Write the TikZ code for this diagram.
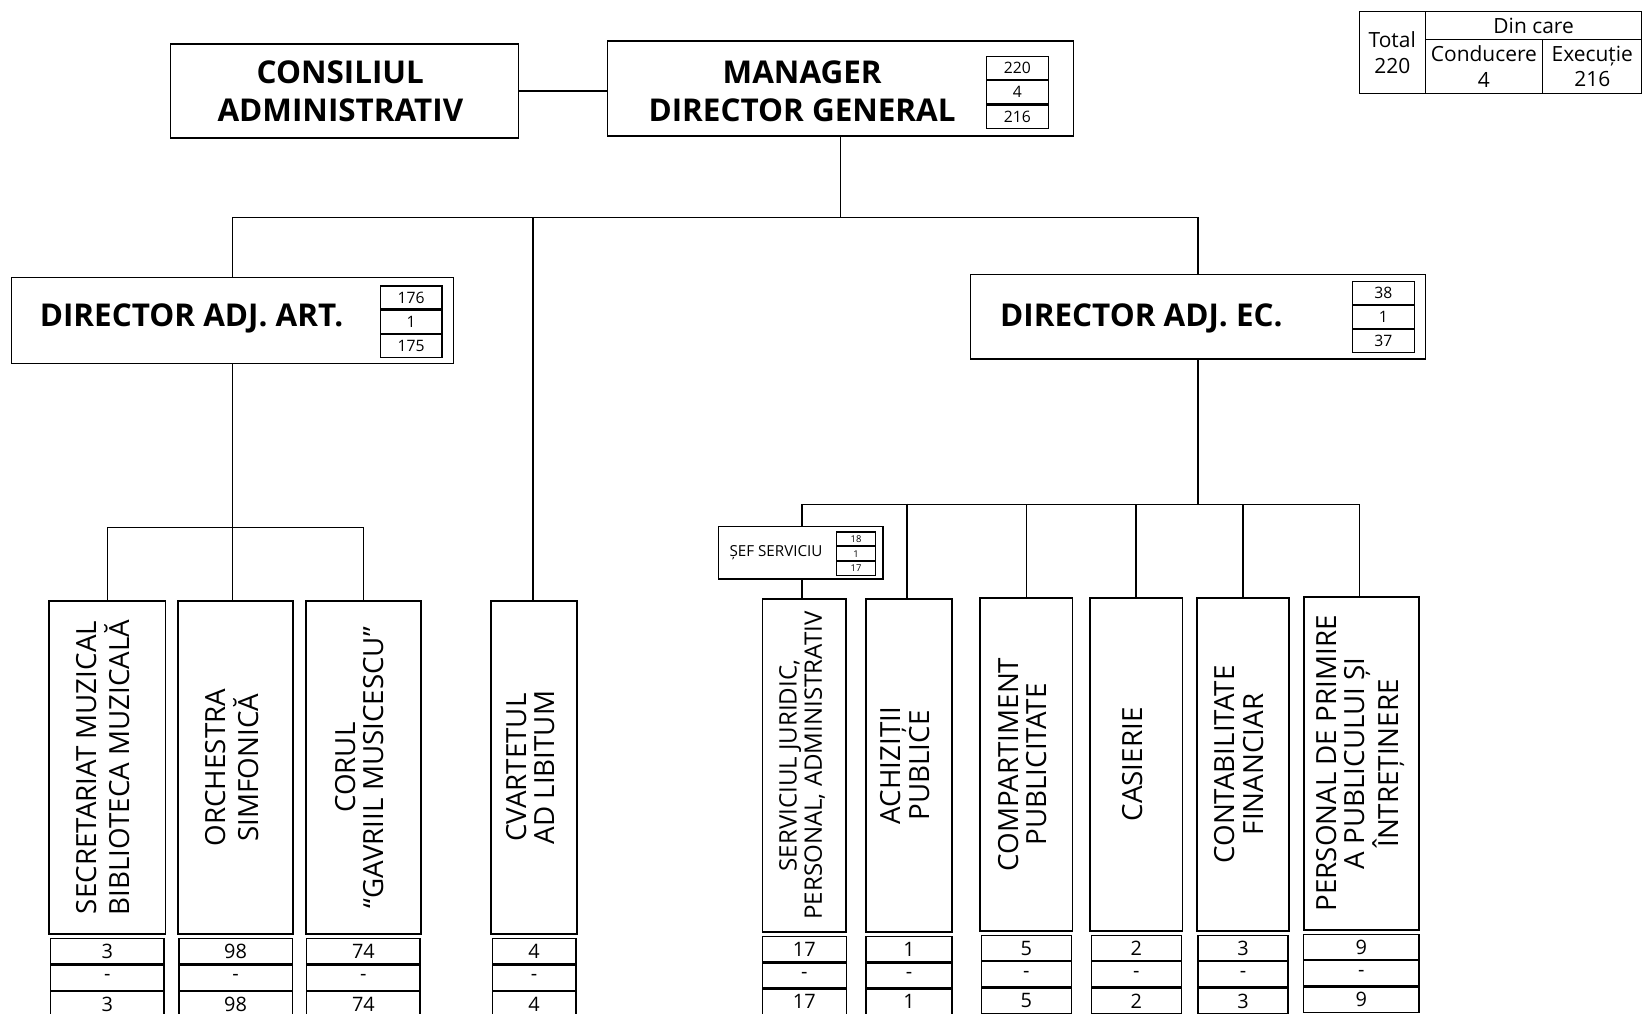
\documentclass[tikz,border=0pt]{standalone}
\usepackage{fontspec}
\setmainfont{Open Sans}
\usepackage{graphicx}
\usetikzlibrary{positioning}

\newcommand{\vtext}[1]{\rotatebox{90}{\begin{tabular}{@{}c@{}}#1\end{tabular}}}

\begin{document}
\begin{tikzpicture}[
        x=1pt, y=-1pt,
        box/.style={
            draw=black,
            line width=1.4pt,
            inner sep=0pt,
        },
        headtext/.style={
            font=\fontsize{30}{36}\selectfont\bfseries,
            align=center,
        },
        unit/.style={
            box,
            font=\fontsize{26.5}{26}\selectfont,
            minimum height=318pt,
        },
        mini/.style={
            draw=black,
            line width=1.2pt,
            inner sep=0pt,
            minimum width=59pt,
            minimum height=22pt,
            font=\fontsize{15}{15}\selectfont,
        },
        cell/.style={
            draw=black,
            line width=1.2pt,
            inner sep=0pt,
            minimum height=24pt,
            text depth=0pt,
            font=\fontsize{19}{19}\selectfont,
        },
        tcell/.style={
            draw=black,
            line width=1.2pt,
            inner sep=0pt,
            align=center,
            font=\fontsize{20}{24.5}\selectfont,
        },
        link/.style={line width=1.4pt},
    ]

    \useasboundingbox (0, 0) rectangle (1568, 968);

    % top level
    \node[box, minimum width=332pt, minimum height=90pt] (cons) at (329, 87) {};
    \node[headtext] (constext) at (325, 87) {CONSILIUL\\ADMINISTRATIV};

    \node[box, minimum width=445pt, minimum height=91pt] (mgr) at (802.5, 84.5) {};
    \node[headtext] (mgrtext) at (766, 87) {MANAGER\\DIRECTOR GENERAL};
    \node[mini] (mgr1) at (971.5, 65) {220};
    \node[mini, below=0pt of mgr1] (mgr2) {4};
    \node[mini, below=0pt of mgr2] (mgr3) {216};

    % directors
    \node[box, minimum width=422pt, minimum height=82pt] (art) at (222, 306) {};
    \node[headtext] (arttext) at (183, 304) {DIRECTOR ADJ. ART.};
    \node[mini] (art1) at (392.5, 284) {176};
    \node[mini, below=0pt of art1] (art2) {1};
    \node[mini, below=0pt of art2] (art3) {175};

    \node[box, minimum width=434pt, minimum height=81pt] (ec) at (1144, 302.5) {};
    \node[headtext] (ectext) at (1090, 304) {DIRECTOR ADJ. EC.};
    \node[mini] (ec1) at (1321, 279.5) {38};
    \node[mini, below=0pt of ec1] (ec2) {1};
    \node[mini, below=0pt of ec2] (ec3) {37};

    \node[box, minimum width=157pt, minimum height=50pt] (sef) at (764.5, 528) {};
    \node[font=\fontsize{14.5}{14}\selectfont] (seftext) at (741, 528) {ȘEF SERVICIU};
    \node[mini, minimum width=37pt, minimum height=13pt, font=\fontsize{9}{9}\selectfont] (sef1) at (817.5, 514.5) {18};
    \node[mini, minimum width=37pt, minimum height=13pt, font=\fontsize{9}{9}\selectfont, below=0pt of sef1] (sef2) {1};
    \node[mini, minimum width=37pt, minimum height=13pt, font=\fontsize{9}{9}\selectfont, below=0pt of sef2] (sef3) {17};

    % units
    \node[unit, minimum width=111pt] (secr)   at (102.5, 733) {\vtext{SECRETARIAT MUZICAL\\BIBLIOTECA MUZICALĂ}};
    \node[unit, minimum width=110pt] (orch)   at (225, 733)   {\vtext{ORCHESTRA\\SIMFONICĂ}};
    \node[unit, minimum width=110pt] (corul)  at (347, 733)   {\vtext{CORUL\\“GAVRIIL MUSICESCU”}};
    \node[unit, minimum width=82pt]  (cvart)  at (510, 733)   {\vtext{CVARTETUL\\AD LIBITUM}};
    \node[unit, minimum width=80pt, font=\fontsize{23}{24}\selectfont]
                                     (serv)   at (768, 731)   {\vtext{SERVICIUL JURIDIC,\\PERSONAL, ADMINISTRATIV}};
    \node[unit, minimum width=82pt]  (achiz)  at (868, 731)   {\vtext{ACHIZIȚII\\PUBLICE}};
    \node[unit, minimum width=88pt]  (comp)   at (980, 730)   {\vtext{COMPARTIMENT\\PUBLICITATE}};
    \node[unit, minimum width=88pt]  (cas)    at (1085, 730)  {\vtext{CASIERIE}};
    \node[unit, minimum width=88pt]  (contab) at (1187, 730)  {\vtext{CONTABILITATE\\FINANCIAR}};
    \node[unit, minimum width=110pt] (pers)   at (1300, 729)  {\vtext{PERSONAL DE PRIMIRE\\A PUBLICULUI ȘI\\ÎNTREȚINERE}};

    % staff numbers under the units
    \foreach \n/\w/\v in {secr/108/3, orch/108/98, corul/108/74, cvart/80/4,
                          serv/80/17, achiz/82/1, comp/86/5, cas/86/2,
                          contab/86/3, pers/110/9} {
        \node[cell, minimum width=\w pt, below=3pt of \n] (\n-a) {\v};
        \node[cell, minimum width=\w pt, below=0pt of \n-a] (\n-b) {-};
        \node[cell, minimum width=\w pt, below=0pt of \n-b] (\n-c) {\v};
    }

    % legend
    \node[tcell, minimum width=63pt, minimum height=78pt] (total) at (1329.5, 50) {Total\\220};
    \node[tcell, minimum width=207pt, minimum height=27pt] (dincare) at (1464.5, 24.5) {Din care};
    \node[tcell, minimum width=112pt, minimum height=51pt] (cond) at (1417, 63.5) {Conducere\\4};
    \node[tcell, minimum width=95pt, minimum height=51pt] (exec) at (1520.5, 63.5) {Execuție\\216};

    % links
    \draw[link] (cons.east) -- (cons.east -| mgr.west);
    \draw[link] (mgr.south) -- ++(0, 77) coordinate (bus);
    \draw[link] (art.north) |- (bus) -| (ec.north);
    \draw[link] (bus -| 509, 0) -- (509, 574);

    \draw[link] (art.south) -- ++(0, 156) coordinate (artbus);
    \draw[link] (secr.north) |- (artbus) -| (corul.north);
    \draw[link] (artbus) -- (artbus |- orch.north);

    \draw[link] (ec.south) -- ++(0, 138) coordinate (ecbus);
    \draw[link] (766, 503) |- (ecbus) -| (1298, 569);
    \draw[link] (866, 481) -- (866, 572);
    \draw[link] (comp.north) -- (comp.north |- ecbus);
    \draw[link] (cas.north) -- (cas.north |- ecbus);
    \draw[link] (contab.north) -- (contab.north |- ecbus);
    \draw[link] (sef.south -| 766, 0) -- (766, 572);

\end{tikzpicture}
\end{document}
